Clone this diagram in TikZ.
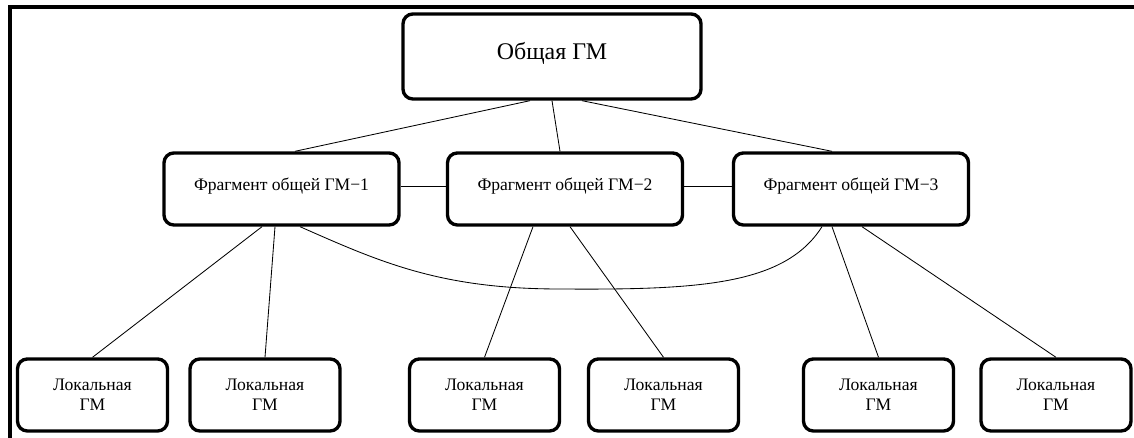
\documentclass[tikz,border=0pt]{standalone}
\usepackage{fontspec}
\setmainfont{Liberation Serif}
\usetikzlibrary{calc}
\newdimen\px \px=0.025cm

\begin{document}
\begin{tikzpicture}[
        x=0.025cm, y=-0.025cm,
        % block styles
        gmbox/.style={rectangle, rounded corners=7pt, draw=black, line width=2.4pt, fill=white, align=center, inner sep=0pt},
        mainbox/.style={gmbox, minimum width=298\px, minimum height=85\px, font=\fontsize{17}{20}\selectfont, text height=12pt, text depth=8.4pt},
        fragbox/.style={gmbox, minimum width=235\px, minimum height=72\px, font=\fontsize{12.5}{15}\selectfont, text height=9pt, text depth=6.2pt},
        localbox/.style={gmbox, minimum width=150\px, minimum height=72\px, font=\fontsize{12.5}{14.2}\selectfont},
        link/.style={line width=0.6pt},
        frame/.style={line width=2.9pt}
    ]
    \useasboundingbox (0,0) rectangle (1134,438);

    % --- 1. FRAME ---
    \draw[frame] (10,440) -- (10,7) -- (1136,7);

    % --- 2. BLOCKS ---
    \node[mainbox] (top) at (552,56.5) {Общая ГМ};

    \node[fragbox] (f1) at (281.5,189) {Фрагмент общей ГМ−1};
    \node[fragbox] (f2) at (565,189) {Фрагмент общей ГМ−2};
    \node[fragbox] (f3) at (851,189) {Фрагмент общей ГМ−3};

    \node[localbox] (l1) at (92.5,395) {Локальная\\ГМ};
    \node[localbox] (l2) at (265,395) {Локальная\\ГМ};
    \node[localbox] (l3) at (484.5,395) {Локальная\\ГМ};
    \node[localbox] (l4) at (663.5,395) {Локальная\\ГМ};
    \node[localbox] (l5) at (878.5,395) {Локальная\\ГМ};
    \node[localbox] (l6) at (1056,395) {Локальная\\ГМ};

    % --- 3. TOP -> FRAGMENTS ---
    \draw[link] ($(top.south)+(-22,0)$) -- ($(f1.north)+(13.5,0)$);
    \draw[link] (top.south) -- ($(f2.north)+(-5,0)$);
    \draw[link] ($(top.south)+(30,0)$) -- ($(f3.north)+(-19,0)$);

    % --- 4. FRAGMENT <-> FRAGMENT ---
    \draw[link] ($(f1.east)+(0,-3)$) -- ($(f2.west)+(0,-3)$);
    \draw[link] ($(f2.east)+(0,-3)$) -- ($(f3.west)+(0,-3)$);
    \coordinate (dip) at (560,289);
    \draw[link] ($(f1.south)+(18.5,0)$) .. controls (380,262) and (440,289) .. (dip)
        .. controls (700,290) and (785,285) .. ($(f3.south)+(-29,0)$);

    % --- 5. FRAGMENTS -> LOCAL ---
    \draw[link] ($(f1.south)+(-19.5,0)$) -- (l1.north);
    \draw[link] ($(f1.south)+(-6.5,0)$) -- (l2.north);
    \draw[link] ($(f2.south)+(-32,0)$) -- (l3.north);
    \draw[link] ($(f2.south)+(5,0)$) -- (l4.north);
    \draw[link] ($(f3.south)+(-19,0)$) -- (l5.north);
    \draw[link] ($(f3.south)+(11,0)$) -- (l6.north);

\end{tikzpicture}
\end{document}
